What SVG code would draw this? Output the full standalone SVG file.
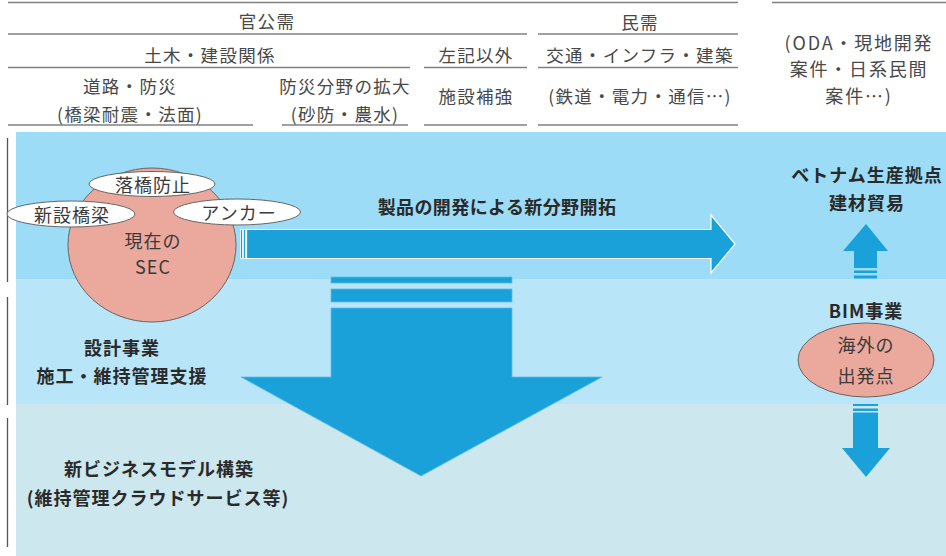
<svg xmlns="http://www.w3.org/2000/svg" width="946" height="556" viewBox="0 0 946 556">
<defs>
<style>
.t{font-family:"Noto Sans CJK JP","Noto Sans",sans-serif;font-size:17.5px;letter-spacing:1.3px;fill:#484848;text-anchor:middle;dominant-baseline:central}
.r{font-size:18px;letter-spacing:1.8px}
.b{font-family:"Noto Sans CJK JP","Noto Sans",sans-serif;font-size:18px;font-weight:bold;letter-spacing:1px;fill:#2a2a2a;text-anchor:middle;dominant-baseline:central}
.n{font-family:"Noto Sans CJK JP","Noto Sans",sans-serif;font-size:18px;letter-spacing:1px;fill:#3a3a3a;text-anchor:middle;dominant-baseline:central}
.rule{stroke:#808080;stroke-width:1.3;fill:none}
.vl{stroke:#555;stroke-width:1.3;fill:none}
.arr{fill:#1ba1d9}
.bub{fill:#fff;stroke:#666;stroke-width:1}
.pink{fill:#eaa99c;stroke:#666;stroke-width:1}
</style>
</defs>
<rect width="946" height="556" fill="#fff"/>

<g id="table">
<line class="rule" x1="8" y1="2.5" x2="738" y2="2.5"/>
<line class="rule" x1="772" y1="2.5" x2="946" y2="2.5"/>
<line class="rule" x1="8" y1="34" x2="527" y2="34"/>
<line class="rule" x1="538" y1="34" x2="738" y2="34"/>
<line class="rule" x1="8" y1="67.5" x2="410" y2="67.5"/>
<line class="rule" x1="424" y1="67.5" x2="527" y2="67.5"/>
<line class="rule" x1="538" y1="67.5" x2="738" y2="67.5"/>
<line class="rule" x1="8" y1="125" x2="253" y2="125"/>
<line class="rule" x1="282" y1="125" x2="408" y2="125"/>
<line class="rule" x1="424" y1="125" x2="527" y2="125"/>
<line class="rule" x1="538" y1="125" x2="738" y2="125"/>
<text class="t" x="267" y="20">官公需</text>
<text class="t" x="640" y="21">民需</text>
<text class="t" x="210" y="54">土木・建設関係</text>
<text class="t" x="476" y="54">左記以外</text>
<text class="t" x="640" y="54">交通・インフラ・建築</text>
<text class="t" x="130" y="85">道路・防災</text>
<text class="t" x="130" y="113">(橋梁耐震・法面)</text>
<text class="t" x="345" y="85">防災分野の拡大</text>
<text class="t" x="345" y="113">(砂防・農水)</text>
<text class="t" x="476" y="95">施設補強</text>
<text class="t" x="640" y="95">(鉄道・電力・通信…)</text>
<text class="t r" x="859" y="42">(ODA・現地開発</text>
<text class="t r" x="859" y="68">案件・日系民間</text>
<text class="t r" x="859" y="95">案件…)</text>
</g>

<g id="bands">
<rect x="16" y="132" width="930" height="147" fill="#9ddcf7"/>
<rect x="16" y="279" width="930" height="125" fill="#b8e5f8"/>
<rect x="16" y="404" width="930" height="152" fill="#cde7ee"/>
<line class="vl" x1="7.5" y1="138" x2="7.5" y2="282"/>
<line class="vl" x1="7.5" y1="297" x2="7.5" y2="405"/>
<line class="vl" x1="7.5" y1="418" x2="7.5" y2="547"/>
</g>

<g id="connectors">
<g id="arrow-right">
<rect x="240.5" y="229.5" width="2" height="29" class="arr" stroke="#fff" stroke-width="0.8"/>
<rect x="243.6" y="229.5" width="2" height="29" class="arr" stroke="#fff" stroke-width="0.8"/>
<polygon class="arr" stroke="#fff" stroke-width="1.2" points="246.5,229.5 711,229.5 711,215 735,244 711,273 711,258.5 246.5,258.5"/>
</g>
<g id="arrow-down">
<rect x="331" y="277" width="181" height="6" class="arr" stroke="#5cbde8" stroke-width="0.8"/>
<rect x="331" y="289" width="181" height="13" class="arr" stroke="#5cbde8" stroke-width="0.8"/>
<polygon class="arr" stroke="#5cbde8" stroke-width="0.8" points="331,308 512,308 512,377 602,377 421,476 241,377 331,377"/>
</g>
<g id="arrow-up-small">
<polygon class="arr" points="866,224 888,251 877,251 877,268 854,268 854,251 843,251"/>
<rect x="854" y="270.5" width="23" height="2.5" class="arr"/>
<rect x="854" y="275.5" width="23" height="3" class="arr"/>
</g>
<g id="arrow-down-small">
<rect x="853" y="404" width="25" height="2" class="arr"/>
<rect x="853" y="408.5" width="25" height="2.5" class="arr"/>
<polygon class="arr" points="853,412.5 878,412.5 878,448 890,448 866,477 842,448 853,448"/>
</g>
</g>

<g id="sec">
<ellipse class="pink" cx="152" cy="245" rx="84" ry="77"/>
<text class="n" x="153" y="240">現在の</text>
<text class="n" x="153" y="266">SEC</text>
</g>
<g id="rakkyo">
<ellipse class="bub" cx="152" cy="184" rx="63" ry="12.5"/>
<text class="n" x="153" y="183.5">落橋防止</text>
</g>
<g id="shinsetsu">
<ellipse class="bub" cx="71" cy="214" rx="64" ry="13"/>
<text class="n" x="72" y="213.5">新設橋梁</text>
</g>
<g id="anchor">
<ellipse class="bub" cx="237" cy="212" rx="63.5" ry="13"/>
<text class="n" x="239" y="212">アンカー</text>
</g>

<g id="label-new-field">
<text class="b" x="497" y="206" style="letter-spacing:0.4px">製品の開発による新分野開拓</text>
</g>
<g id="vietnam">
<text class="b" x="867" y="174">ベトナム生産拠点</text>
<text class="b" x="867" y="202">建材貿易</text>
</g>
<g id="bim">
<text class="b" x="866" y="310">BIM事業</text>
</g>
<g id="overseas">
<ellipse class="pink" cx="866" cy="360" rx="68" ry="37"/>
<text class="n" x="866" y="344">海外の</text>
<text class="n" x="866" y="375">出発点</text>
</g>
<g id="design">
<text class="b" x="122" y="347">設計事業</text>
<text class="b" x="122" y="375">施工・維持管理支援</text>
</g>
<g id="newbiz">
<text class="b" x="159" y="468">新ビジネスモデル構築</text>
<text class="b" x="158" y="497">(維持管理クラウドサービス等)</text>
</g>
</svg>
